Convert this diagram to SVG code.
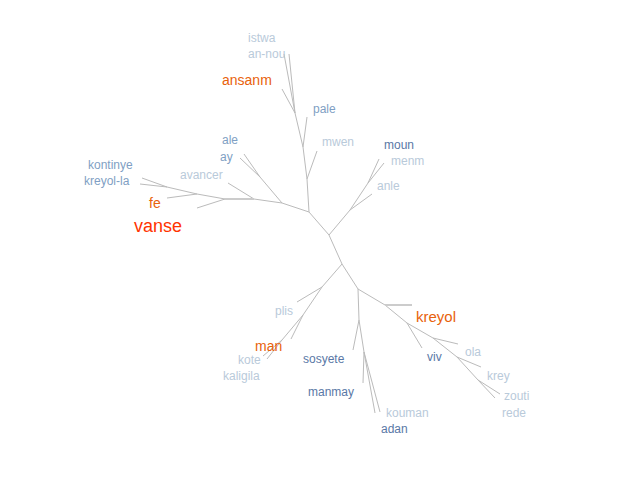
<svg xmlns="http://www.w3.org/2000/svg" width="642" height="493" viewBox="0 0 642 493">
<style>
.e{stroke:#bbb;stroke-width:1;fill:none}
.t{font-family:"Liberation Sans",Arial,sans-serif;font-size:12px}
.l{fill:#b9cada}.m{fill:#7f9fc4}.d{fill:#5a78a6}.o{fill:#e8620c;font-size:14px}
</style>
<rect width="642" height="493" fill="#fff"/>
<g id="edges">
<path class="e" d="M309,212L329,235L342,264M309,212L307,179L303,147L295,113L289,54M295,113L284,54M295,113L282,89M303,147L307,117M307,179L317,151"/>
<path class="e" d="M309,212L282,203L254,199L225,199L197,194L167,187L142,178M167,187L140,184M197,194L167,198M225,199L197,208M254,199L228,183M282,203L260,177L244,154M260,177L240,158"/>
<path d="M225,199L254,199" stroke="#ccc" stroke-width="2"/>
<path class="e" d="M329,235L350,210L368,183L379,159M368,183L384,163M350,210L372,194"/>
<path class="e" d="M342,264L322,287L297,302M322,287L303,315L291,339M303,315L282,340L263,356M282,340L267,359"/>
<path class="e" d="M342,264L358,289L359,320L353,350M359,320L364,352L363,383M364,352L375,413M364,352L380,412M358,289L385,305L407,323L422,348M407,323L433,338L458,344M433,338L457,357L481,367M457,357L478,380L500,394M478,380L495,398"/>
<path d="M385,305L412,305" stroke="#ccc" stroke-width="2"/>
</g>
<g id="labels" class="t">
<text id="istwa" class="l" x="248" y="42">istwa</text>
<text id="an-nou" class="l" x="248" y="58">an-nou</text>
<text id="ansanm" class="o" x="222" y="85">ansanm</text>
<text id="pale" class="m" x="313" y="113">pale</text>
<text id="mwen" class="l" x="322" y="146">mwen</text>
<text id="ale" class="m" x="222" y="144">ale</text>
<text id="ay" class="m" x="220" y="161">ay</text>
<text id="kontinye" class="m" x="88" y="169">kontinye</text>
<text id="kreyol-la" class="m" x="84" y="185">kreyol-la</text>
<text id="avancer" class="l" x="180" y="179">avancer</text>
<text id="fe" class="o" x="149" y="208">fe</text>
<text id="vanse" x="134" y="232" style="fill:#ff3300;font-size:18px">vanse</text>
<text id="moun" class="d" x="384" y="149">moun</text>
<text id="menm" class="l" x="391" y="165">menm</text>
<text id="anle" class="l" x="377" y="190">anle</text>
<text id="plis" class="l" x="275" y="315">plis</text>
<text id="man" class="o" x="255" y="351">man</text>
<text id="kote" class="l" x="238" y="364">kote</text>
<text id="kaligila" class="l" x="223" y="380">kaligila</text>
<text id="sosyete" class="d" x="303" y="363">sosyete</text>
<text id="manmay" class="d" x="308" y="396">manmay</text>
<text id="kouman" class="l" x="386" y="417">kouman</text>
<text id="adan" class="d" x="381" y="433">adan</text>
<text id="kreyol" class="o" x="416" y="322" style="font-size:15px">kreyol</text>
<text id="viv" class="d" x="427" y="361">viv</text>
<text id="ola" class="l" x="465" y="356">ola</text>
<text id="krey" class="l" x="487" y="380">krey</text>
<text id="zouti" class="l" x="504" y="400">zouti</text>
<text id="rede" class="l" x="502" y="417">rede</text>
</g>
</svg>
